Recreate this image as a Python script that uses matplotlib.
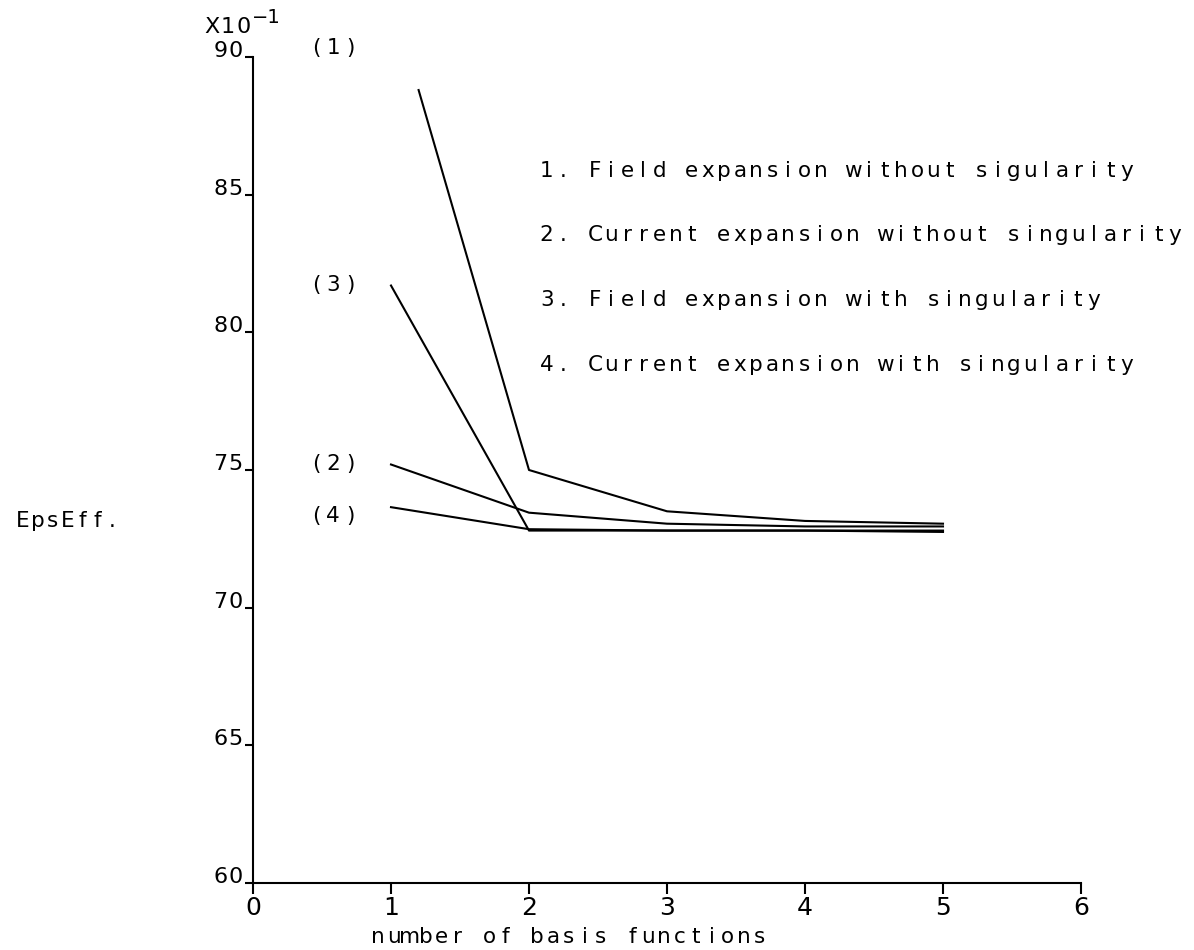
import matplotlib
matplotlib.use("Agg")
import matplotlib.pyplot as plt

# Effective permittivity vs. number of basis functions
n_basis = [1, 2, 3, 4, 5]
n_basis_field_nosing = [1.2, 2, 3, 4, 5]
eps_field_nosing = [88.8, 75.0, 73.5, 73.15, 73.05]      # (1)
eps_current_nosing = [75.2, 73.45, 73.05, 72.95, 72.95]  # (2)
eps_field_sing = [81.7, 72.8, 72.8, 72.8, 72.75]         # (3)
eps_current_sing = [73.65, 72.85, 72.8, 72.8, 72.8]      # (4)

curve_tags = ["(1)", "(2)", "(3)", "(4)"]
curve_tag_levels = [90.1, 75.0, 81.5, 73.1]

legend_lines = [
    "1. Field expansion without sigularity",
    "2. Current expansion without singularity",
    "3. Field expansion with singularity",
    "4. Current expansion with singularity",
]
legend_levels = [85.65, 83.3, 80.95, 78.6]

x_ticks = [0, 1, 2, 3, 4, 5, 6]
y_ticks = [60, 65, 70, 75, 80, 85, 90]

W, H = 1194, 950
fig = plt.figure(figsize=(W / 100, H / 100), dpi=100)
ax = fig.add_axes([253 / W, 1 - 883 / H, (1081 - 253) / W, (883 - 57) / H])
ax.set_xlim(0, 6)
ax.set_ylim(60, 90)

PX = 0.72  # points per pixel at 100 dpi


def spaced_text(x, y, s, coords, ha="left", dx=0.0, dy=0.0,
                pitch=16, size=15):
    """Draw a string with fixed character pitch, plotter style."""
    n = len(s)
    if ha == "left":
        start = pitch / 2
    elif ha == "right":
        start = -pitch * (n - 0.5)
    else:
        start = -pitch * (n - 1) / 2
    for i, ch in enumerate(s):
        if ch == " ":
            continue
        ax.annotate(ch, xy=(x, y), xycoords=coords,
                    xytext=((start + i * pitch + dx) * PX, dy * PX),
                    textcoords="offset points", ha="center", va="baseline",
                    fontsize=size, color="black", annotation_clip=False)


lw = 1.5
for xs, ys in [(n_basis_field_nosing, eps_field_nosing),
               (n_basis, eps_current_nosing),
               (n_basis, eps_field_sing),
               (n_basis, eps_current_sing)]:
    ax.plot(xs, ys, color="black", lw=lw, solid_joinstyle="round")

# axes frame: only left and bottom
for side in ("top", "right"):
    ax.spines[side].set_visible(False)
for side in ("left", "bottom"):
    ax.spines[side].set_linewidth(lw)
ax.set_xticks(x_ticks)
ax.set_yticks(y_ticks)
ax.tick_params(axis="both", direction="out", width=lw, labelleft=False,
               labelbottom=False)
ax.tick_params(axis="y", length=6)
ax.tick_params(axis="x", length=8)

for v in y_ticks:
    spaced_text(0, v, str(v), "data", ha="right", dx=-10, dy=0, pitch=15,
                size=16)
for v in x_ticks:
    spaced_text(v, 60, str(v), "data", ha="center", dy=-32, pitch=13,
                size=18)

# scale factor above the y axis
spaced_text(0, 90, "X10", "data", ha="right", dx=-2, dy=24, pitch=15.5,
            size=16)
ax.annotate("\u22121", xy=(0, 90), xycoords="data", xytext=(-1 * PX, 34 * PX),
            textcoords="offset points", ha="left", va="baseline", fontsize=14,
            annotation_clip=False)

# curve tags
for tag, lvl in zip(curve_tags, curve_tag_levels):
    spaced_text(0.58, lvl, tag, "data", ha="center", pitch=17, size=15.5)

# legend text
for txt, lvl in zip(legend_lines, legend_levels):
    spaced_text(2.07, lvl, txt, "data", ha="left", pitch=16.1, size=15.5)

# axis titles
spaced_text(15, H - 527, "EpsEff.", "figure pixels", ha="left", pitch=15,
            size=15.5)
spaced_text(370, H - 943, "number of basis functions", "figure pixels",
            ha="left", pitch=15.9, size=15.5)

fig.savefig("out.png", dpi=100)
